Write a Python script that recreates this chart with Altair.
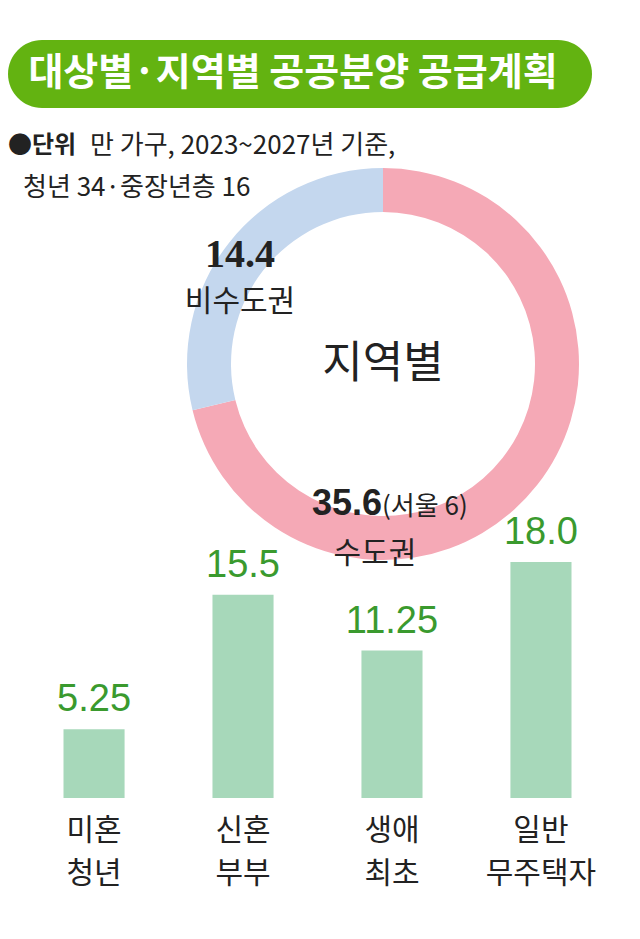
import altair as alt
import pandas as pd

# texts
title = "대상별·지역별 공공분양 공급계획"
unit_head = "●단위"
unit_line1 = "만 가구, 2023~2027년 기준,"
unit_line2 = "청년 34·중장년층 16"
ring_title = "지역별"

# bars: by target group
groups = ["미혼", "신혼", "생애", "일반"]
groups_sub = ["청년", "부부", "최초", "무주택자"]
group_values = [5.25, 15.5, 11.25, 18.0]
group_labels = ["5.25", "15.5", "11.25", "18.0"]

# donut: by region
regions = ["수도권", "비수도권"]
region_values = [35.6, 14.4]
seoul_note = "(서울 6)"

KR = "Noto Sans CJK KR"
NARROW = "Liberation Sans Narrow, Liberation Sans, sans-serif"

bars_df = pd.DataFrame({"group": groups, "sub": groups_sub,
                        "value": group_values, "label": group_labels})
bars_df["name"] = bars_df["group"] + "\n" + bars_df["sub"]

ring_df = pd.DataFrame({"region": regions, "value": region_values,
                        "order": list(range(len(regions)))})

x = alt.X("group:N", sort=groups, axis=None,
          scale=alt.Scale(range=[55.5, 563.5], paddingInner=0.59, paddingOuter=0))
y = alt.Y("value:Q", axis=None,
          scale=alt.Scale(domain=[0, 18], range=[790, 554], nice=False, zero=True))

one = pd.DataFrame({"k": [0]})


def label(text, px, py, size, weight="normal", font=KR, align="center",
          baseline="middle", color="#222222"):
    return alt.Chart(one).mark_text(
        font=font, fontSize=size, fontWeight=weight, align=align,
        baseline=baseline, color=color
    ).encode(x=alt.value(px), y=alt.value(py), text=alt.value(text))


pill = alt.Chart(one).mark_rect(cornerRadius=34, color="#63b311").encode(
    x=alt.value(0), x2=alt.value(584), y=alt.value(32), y2=alt.value(100))

ring = alt.Chart(ring_df).mark_arc(innerRadius=152, outerRadius=196).encode(
    theta=alt.Theta("value:Q", stack=True),
    color=alt.Color("region:N", legend=None,
                    scale=alt.Scale(domain=regions, range=["#f5a9b6", "#c4d7ee"])),
    order=alt.Order("order:Q"),
    x=alt.value(375), y=alt.value(356),
)

bars = alt.Chart(bars_df).mark_bar(color="#a7d8ba").encode(x=x, y=y)

vals = alt.Chart(bars_df).mark_text(
    dy=-18, baseline="alphabetic", font=NARROW, fontSize=38, color="#3a9a2e"
).encode(x=x, y=y, text="label:N")

cats = alt.Chart(bars_df).mark_text(
    baseline="alphabetic", lineBreak="\n", lineHeight=43,
    font=KR, fontSize=30, color="#222222"
).encode(x=x, y=alt.value(832), text="name:N")

chart = alt.layer(
    pill,
    label(title, 285, 66, 38, weight="bold", color="white"),
    label(unit_head, 0, 138, 24, weight="bold", align="left"),
    label(unit_line1, 82, 138, 26, align="left"),
    label(unit_line2, 15, 180, 26, align="left"),
    ring,
    label(f"{region_values[1]}", 232, 259, 40, weight="bold",
          font="Liberation Serif", baseline="alphabetic"),
    label(regions[1], 232, 294, 30),
    label(ring_title, 375, 357, 44),
    label(f"{region_values[0]}", 374, 507, 36, weight="bold",
          font="Liberation Sans", align="right", baseline="alphabetic"),
    label(seoul_note, 374, 507, 26, align="left", baseline="alphabetic"),
    label(regions[0], 367, 546, 30),
    bars,
    vals,
    cats,
).properties(
    width=624, height=923, autosize="none", padding=0
).configure_view(strokeWidth=0)

chart.save("out.html", embed_options={"renderer": "svg", "actions": False})
